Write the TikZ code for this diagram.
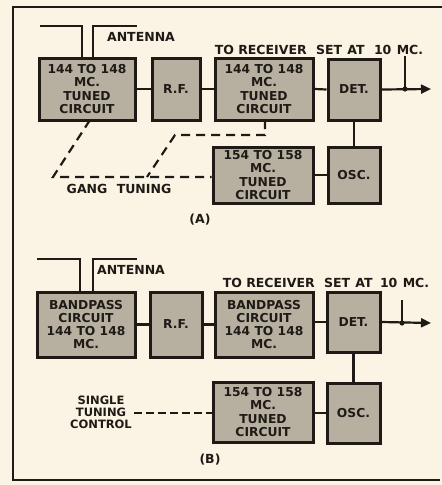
\documentclass[tikz,border=0pt]{standalone}
\usepackage{fontspec}
\setmainfont{DejaVu Sans}
\usetikzlibrary{arrows.meta}
\definecolor{paper}{HTML}{FBF4E4}
\definecolor{boxgray}{HTML}{B7B0A1}
\definecolor{ink}{HTML}{1E1A16}
\tikzset{
  blk/.style={draw=ink, line width=3pt, fill=boxgray, align=center, inner sep=0pt,
    font=\fontsize{12.3}{13.2}\selectfont\bfseries, text=ink},
  wire/.style={draw=ink, line width=2.2pt},
  gang/.style={draw=ink, line width=2.2pt, dash pattern=on 9pt off 6pt},
  lbl/.style={font=\fontsize{12.5}{13}\selectfont\bfseries, text=ink, inner sep=0pt, align=center},
  frame/.style={draw=ink, line width=2.6pt}
}
\begin{document}
\begin{tikzpicture}[x=1pt,y=-1pt]
\fill[paper] (0,0) rectangle (442,485);
\useasboundingbox (0,0) rectangle (442,485);
% frame
\coordinate (f1) at (442,7);
\coordinate (f2) at (13,7);
\coordinate (f3) at (13,480);
\coordinate (f4) at (440,480);
\draw[frame] (f1) -- (f2) -- (f3) -- (f4);

% ---------------- (A) ----------------
\node[blk, minimum width=96pt, minimum height=62pt] (a1) at (87,89) {144 TO 148\\MC.\\TUNED\\CIRCUIT};
\node[blk, minimum width=48pt, minimum height=62pt] (arf) at (176,89) {R.F.};
\node[blk, minimum width=98pt, minimum height=62pt] (a3) at (264,89) {144 TO 148\\MC.\\TUNED\\CIRCUIT};
\node[blk, minimum width=52pt, minimum height=61pt] (adet) at (354,89.5) {DET.};
\node[blk, minimum width=52pt, minimum height=56pt] (aosc) at (354,175) {OSC.};
\node[blk, minimum width=100pt, minimum height=56pt] (a154) at (263,175) {154 TO 158\\MC.\\TUNED\\CIRCUIT};

\draw[wire] (a1.east) -- (arf.west);
\draw[wire] (arf.east) -- (a3.west);
\draw[wire] (a3.east) -- (adet.west);
\draw[wire] (adet.south) -- (aosc.north);
\draw[wire] (a154.east) -- (aosc.west);
\coordinate (aout) at (431,89);
\draw[wire, -{Triangle[length=10pt,width=9pt]}] (adet.east) -- (aout);
\coordinate (atap) at (405,56);
\coordinate (ajn) at (405,89);
\draw[wire] (atap) -- (ajn);
\fill[ink] (ajn) circle (2.6pt);

% antenna A
\coordinate (aan1) at (40,26);
\coordinate (aan2) at (82,26);
\coordinate (aan3) at (82,58);
\coordinate (aan4) at (93,58);
\coordinate (aan5) at (93,26);
\coordinate (aan6) at (137,26);
\draw[wire] (aan1) -- (aan2) -- (aan3);
\draw[wire] (aan4) -- (aan5) -- (aan6);
\node[lbl] (aant) at (141,37) {ANTENNA};
\node[lbl] (arec) at (319,50) {TO RECEIVER\hspace{5pt} SET\hspace{1pt} AT\hspace{5pt} 10\hspace{1pt} MC.};

% gang tuning
\coordinate (ag1) at (90,120);
\coordinate (ag2) at (53,177);
\coordinate (ag3) at (265,120);
\coordinate (ag4) at (265,135);
\coordinate (ag5) at (175,135);
\coordinate (ag6) at (147,177);
\draw[gang] (ag1) -- (ag2) -- (ag2 -| a154.west);
\draw[gang] (ag3) -- (ag4) -- (ag5) -- (ag6);
\node[lbl] (agang) at (119,189) {GANG\hspace{5pt} TUNING};
\node[lbl] (acap) at (200,220) {(A)};

% ---------------- (B) ----------------
\node[blk, minimum width=98pt, minimum height=65pt] (b1) at (86,324.5) {BANDPASS\\CIRCUIT\\144 TO 148\\MC.};
\node[blk, minimum width=52pt, minimum height=65pt] (brf) at (176,324.5) {R.F.};
\node[blk, minimum width=98pt, minimum height=65pt] (b3) at (264,324.5) {BANDPASS\\CIRCUIT\\144 TO 148\\MC.};
\node[blk, minimum width=53pt, minimum height=60pt] (bdet) at (353.5,322) {DET.};
\node[blk, minimum width=53pt, minimum height=60pt] (bosc) at (353.5,413) {OSC.};
\node[blk, minimum width=100pt, minimum height=60pt] (b154) at (263,412) {154 TO 158\\MC.\\TUNED\\CIRCUIT};

\draw[wire] (b1.east) -- (brf.west);
\draw[wire] (brf.east) -- (b3.west);
\draw[wire] (b3.east |- bdet.west) -- (bdet.west);
\draw[wire] (bdet.south) -- (bosc.north);
\draw[wire] (b154.east |- bosc.west) -- (bosc.west);
\coordinate (bout) at (431,323);
\draw[wire, -{Triangle[length=10pt,width=9pt]}] (bdet.east) -- (bout);
\coordinate (btap) at (402,300);
\coordinate (bjn) at (402,323);
\draw[wire] (btap) -- (bjn);
\fill[ink] (bjn) circle (2.6pt);

% antenna B
\coordinate (ban1) at (37,259);
\coordinate (ban2) at (80,259);
\coordinate (ban3) at (80,292);
\coordinate (ban4) at (93,292);
\coordinate (ban5) at (93,259);
\coordinate (ban6) at (137,259);
\draw[wire] (ban1) -- (ban2) -- (ban3);
\draw[wire] (ban4) -- (ban5) -- (ban6);
\node[lbl] (bant) at (131,270) {ANTENNA};
\node[lbl] (brec) at (326,283) {TO RECEIVER\hspace{5pt} SET\hspace{1pt} AT\hspace{3pt} 10\hspace{1pt} MC.};

\node[lbl, font=\fontsize{11.5}{12}\selectfont\bfseries] (bsingle) at (101,412) {SINGLE\\TUNING\\CONTROL};
\coordinate (bs1) at (134,413);
\draw[gang, dash pattern=on 8pt off 4pt] (bs1) -- (bs1 -| b154.west);
\node[lbl] (bcap) at (210,460) {(B)};
\end{tikzpicture}
\end{document}
